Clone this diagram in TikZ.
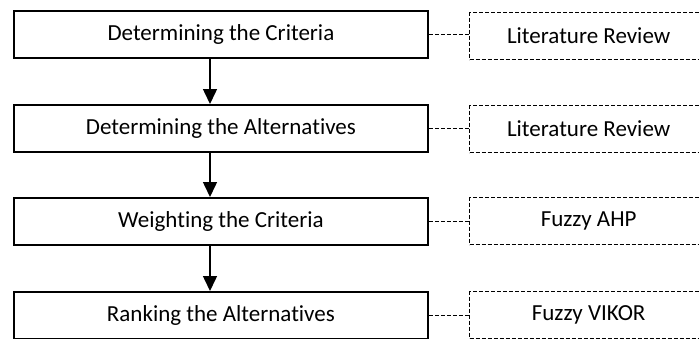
\documentclass[tikz,border=0pt]{standalone}
\usepackage{fontspec}
\setmainfont{Carlito}[Ligatures=NoCommon]
\usetikzlibrary{arrows.meta}
\begin{document}
\begin{tikzpicture}[x=1pt,y=-1pt,
  stepbox/.style={draw=black,line width=1.8pt,minimum width=414pt,minimum height=47pt,inner sep=0pt,font=\fontsize{23}{26}\selectfont,anchor=north west},
  methodbox/.style={draw=black,line width=1.3pt,dash pattern=on 4pt off 2pt,minimum width=238pt,minimum height=47pt,inner sep=0pt,font=\fontsize{23}{26}\selectfont,anchor=north west},
  arr/.style={line width=1.5pt,-{Triangle[width=14pt,length=15pt]}},
  link/.style={line width=1.3pt,dash pattern=on 4pt off 2pt}]
\useasboundingbox (0,0) rectangle (699,338);
\clip (0,0) rectangle (699,338);
\coordinate (ax) at (210,0);
\node[stepbox] (s1) at (13,10) {Determining the Criteria};
\node[stepbox] (s2) at (13,104) {Determining the Alternatives};
\node[stepbox] (s3) at (13,197) {Weighting the Criteria};
\node[stepbox] (s4) at (13,291) {Ranking the Alternatives};
\node[methodbox] (m1) at (469,12) {Literature Review};
\node[methodbox] (m2) at (469,105) {Literature Review};
\node[methodbox] (m3) at (469,197) {Fuzzy AHP};
\node[methodbox] (m4) at (469,291) {Fuzzy VIKOR};
\draw[arr] (s1.south -| ax) -- (s2.north -| ax);
\draw[arr] (s2.south -| ax) -- (s3.north -| ax);
\draw[arr] (s3.south -| ax) -- (s4.north -| ax);
\draw[link] (s1.east) -- (s1.east -| m1.west);
\draw[link] (s2.east) -- (s2.east -| m2.west);
\draw[link] (s3.east) -- (s3.east -| m3.west);
\draw[link] (s4.east) -- (s4.east -| m4.west);
\end{tikzpicture}
\end{document}
